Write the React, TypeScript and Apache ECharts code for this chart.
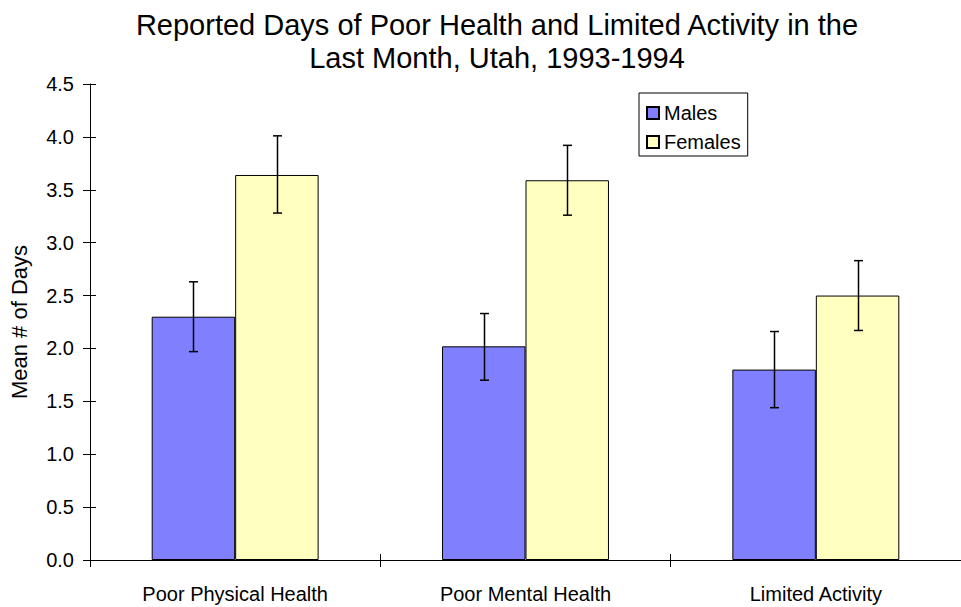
import React, { useEffect, useRef } from "react";
import * as echarts from "echarts";

const categories = ["Poor Physical Health", "Poor Mental Health", "Limited Activity"];
const malesMean = [2.3, 2.02, 1.8];
const malesLow = [1.97, 1.7, 1.44];
const malesHigh = [2.63, 2.33, 2.16];
const femalesMean = [3.64, 3.59, 2.5];
const femalesLow = [3.28, 3.26, 2.17];
const femalesHigh = [4.01, 3.92, 2.83];
const titleText = "Reported Days of Poor Health and Limited Activity in the\nLast Month, Utah, 1993-1994";

const FONT = "'Liberation Sans', Arial, sans-serif";
const BAR_OFFSET = 0.14375;

function errSeries(name: string, lows: number[], highs: number[], sign: number) {
  return {
    type: "custom",
    name,
    xAxisIndex: 0,
    yAxisIndex: 0,
    z: 10,
    encode: { x: 0, y: [1, 2] },
    data: categories.map((_, i) => [i, lows[i], highs[i]]),
    renderItem: (params: any, api: any) => {
      const xi = api.value(0);
      const lo = api.coord([xi, api.value(1)]);
      const hi = api.coord([xi, api.value(2)]);
      const cw = api.size([1, 0])[0];
      const x = Math.round(lo[0] + sign * cw * BAR_OFFSET) + 0.5;
      const cap = 4.5;
      const st = { stroke: "#000", lineWidth: 1.5 };
      return {
        type: "group",
        children: [
          { type: "line", shape: { x1: x, y1: hi[1], x2: x, y2: lo[1] }, style: st },
          { type: "line", shape: { x1: x - cap, y1: hi[1], x2: x + cap, y2: hi[1] }, style: st },
          { type: "line", shape: { x1: x - cap, y1: lo[1], x2: x + cap, y2: lo[1] }, style: st },
        ],
      };
    },
  };
}

export default function App() {
  const ref = useRef<HTMLDivElement>(null);
  useEffect(() => {
    const chart = echarts.init(ref.current!, null, { renderer: "svg" });
    chart.setOption({
      animation: false,
      backgroundColor: "#fff",
      textStyle: { fontFamily: FONT, color: "#000" },
      graphic: [
        {
          type: "text",
          x: 497,
          y: 8,
          style: {
            text: titleText,
            fill: "#000",
            fontFamily: FONT,
            fontSize: 29,
            lineHeight: 33,
            textAlign: "center",
            align: "center",
            textVerticalAlign: "top",
            verticalAlign: "top",
          },
        },
      ],
      legend: {
        data: ["Males", "Females"],
        orient: "vertical",
        left: 639,
        top: 93,
        borderColor: "#000",
        borderWidth: 1,
        padding: [10, 7, 4, 7],
        itemWidth: 12,
        itemHeight: 12,
        itemGap: 9,
        icon: "rect",
        textStyle: { fontFamily: FONT, fontSize: 20, color: "#000" },
      },
      grid: { left: 88, right: -9, top: 84, bottom: 47, containLabel: false },
      xAxis: [
        {
          type: "category",
          data: categories,
          axisLine: { lineStyle: { color: "#000", width: 1 } },
          axisTick: { show: true, length: 7, lineStyle: { color: "#000" } },
          axisLabel: { fontFamily: FONT, fontSize: 20, color: "#000", margin: 24 },
        },
        {
          type: "category",
          data: categories,
          position: "bottom",
          axisLine: { show: false },
          axisTick: { show: true, inside: true, length: 6, lineStyle: { color: "#000" } },
          axisLabel: { show: false },
        },
      ],
      yAxis: [
        {
          type: "value",
          min: 0,
          max: 4.5,
          interval: 0.5,
          name: "Mean # of Days",
          nameLocation: "middle",
          nameRotate: 90,
          nameGap: 60,
          nameTextStyle: { fontFamily: FONT, fontSize: 22, color: "#000" },
          axisLine: { show: true, lineStyle: { color: "#000", width: 1 } },
          axisTick: { show: true, length: 7, lineStyle: { color: "#000" } },
          axisLabel: { fontFamily: FONT, fontSize: 20, color: "#000", margin: 16, formatter: (v: number) => v.toFixed(1) },
          splitLine: { show: false },
        },
        {
          type: "value",
          min: 0,
          max: 4.5,
          interval: 0.5,
          position: "left",
          axisLine: { show: false },
          axisTick: { show: true, inside: true, length: 6, lineStyle: { color: "#000" } },
          axisLabel: { show: false },
          splitLine: { show: false },
        },
      ],
      series: [
        {
          type: "bar",
          name: "Males",
          data: malesMean,
          barGap: "0%",
          barCategoryGap: "42.5%",
          itemStyle: { color: "#8080FF", borderColor: "#000", borderWidth: 1 },
        },
        {
          type: "bar",
          name: "Females",
          data: femalesMean,
          barGap: "0%",
          barCategoryGap: "42.5%",
          itemStyle: { color: "#FFFFC0", borderColor: "#000", borderWidth: 1 },
        },
        errSeries("Males error", malesLow, malesHigh, -1),
        errSeries("Females error", femalesLow, femalesHigh, 1),
      ],
    });
    return () => chart.dispose();
  }, []);
  return <div ref={ref} style={{ position: "fixed", left: 0, top: 0, width: 961, height: 607 }} />;
}
